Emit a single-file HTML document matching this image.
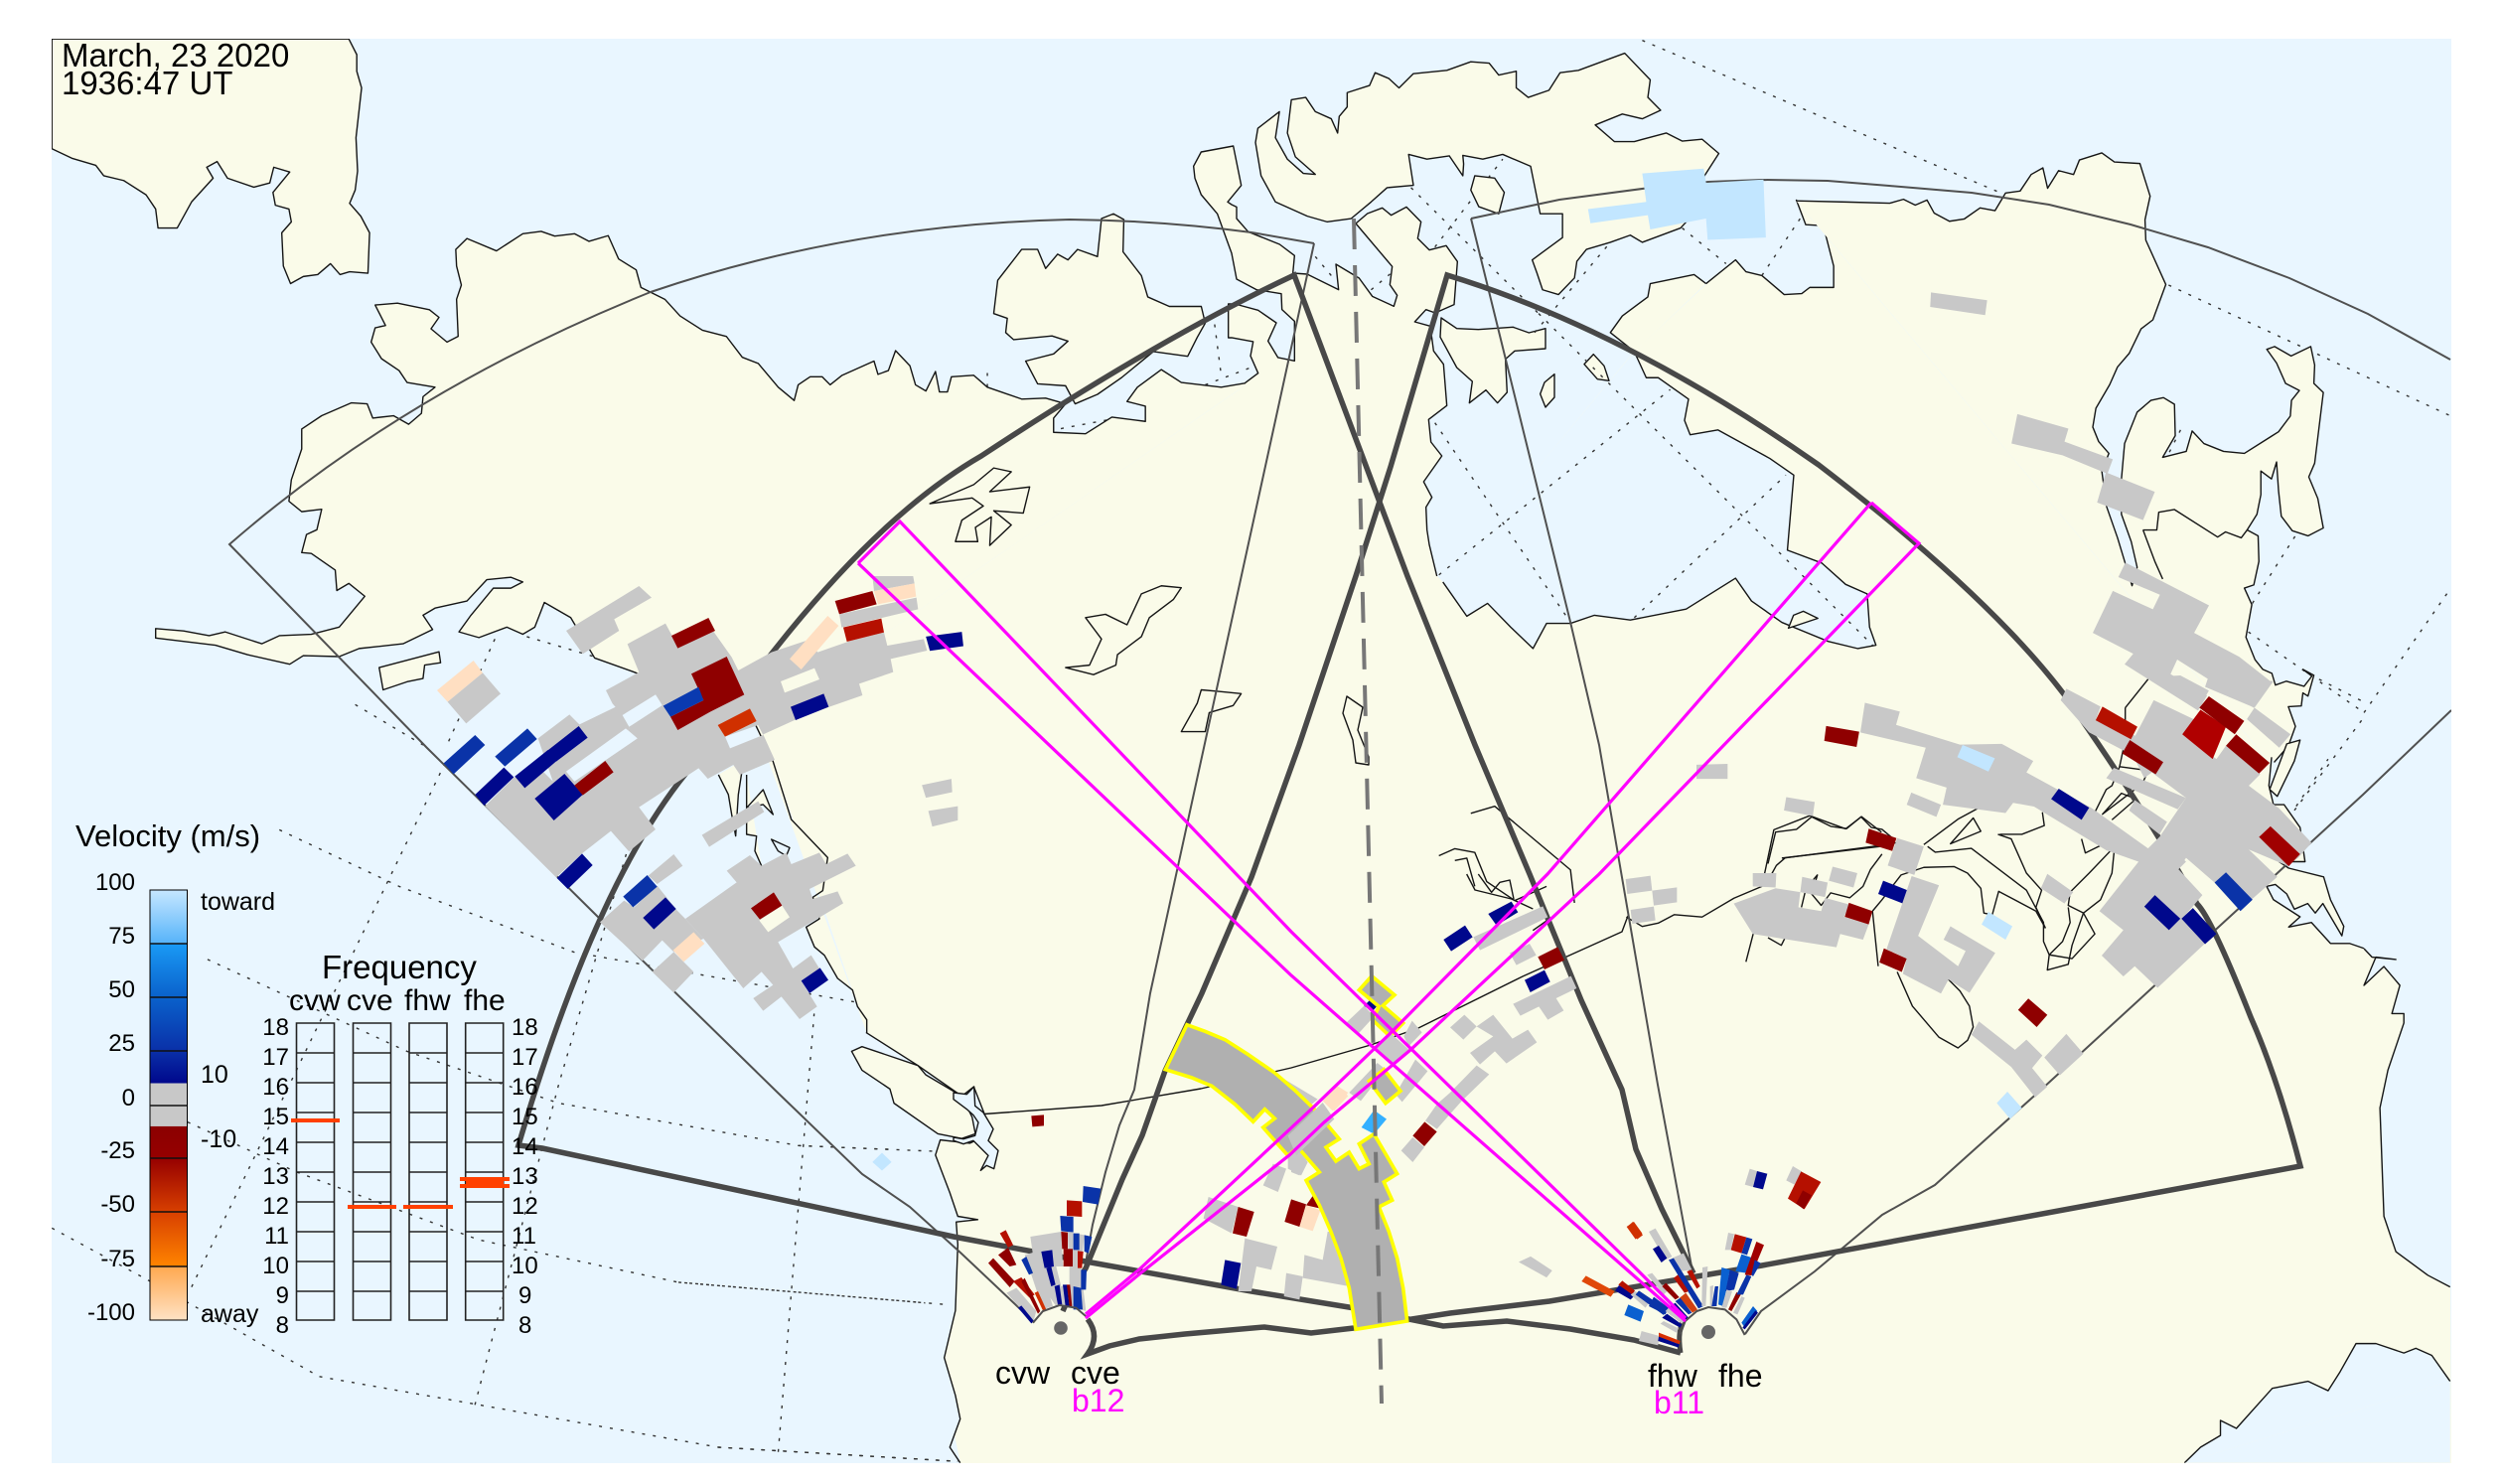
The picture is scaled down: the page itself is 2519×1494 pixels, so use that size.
<!DOCTYPE html>
<html><head><meta charset="utf-8"><title>SuperDARN map</title>
<style>
html,body{margin:0;padding:0;background:#fff}
svg{display:block}
polygon,polyline,path,line,rect{vector-effect:non-scaling-stroke}
.cl{stroke:#151515;stroke-width:1.4;stroke-linejoin:round}
.ld{fill:#fafbe9}.wt{fill:#e9f6ff}.nf{fill:none}
.gd{fill:none;stroke:#333;stroke-width:1.4;stroke-dasharray:3 8}
.th{fill:none;stroke:#505050;stroke-width:2}
.tk{fill:none;stroke:#484848;stroke-width:5.5;stroke-linejoin:miter}
.mg{fill:none;stroke:#ff00ff;stroke-width:3.2}
.g{fill:#c8c8c8}.n{fill:#00088c}.d{fill:#8f0000}.r{fill:#b51000}.b{fill:#0a33a8}.m{fill:#0a60d0}.o{fill:#d03000}.p{fill:#ffdfc2}.l{fill:#c2e6ff}.s{fill:#33b0ff}
text{font-family:"Liberation Sans",sans-serif;fill:#000}
</style></head><body>
<svg xmlns="http://www.w3.org/2000/svg" width="2519" height="1494" viewBox="0 0 2519 1494">
<defs>
<clipPath id="pc"><rect x="52" y="39" width="2416" height="1434"/></clipPath>
<linearGradient id="cb" x1="0" y1="895" x2="0" y2="1329" gradientUnits="userSpaceOnUse">
<stop offset="0" stop-color="#c8e8ff"/><stop offset=".125" stop-color="#58b4fa"/><stop offset=".126" stop-color="#1a9af5"/><stop offset=".25" stop-color="#0a62cc"/><stop offset=".375" stop-color="#0a30a8"/><stop offset=".45" stop-color="#00088c"/><stop offset=".451" stop-color="#c8c8c8"/><stop offset=".55" stop-color="#c8c8c8"/><stop offset=".551" stop-color="#8b0000"/><stop offset=".625" stop-color="#960000"/><stop offset=".75" stop-color="#d84000"/><stop offset=".875" stop-color="#ff8400"/><stop offset=".876" stop-color="#ffa850"/><stop offset="1" stop-color="#ffe2c4"/>
</linearGradient>
</defs>
<rect width="2519" height="1494" fill="#fff"/>
<g clip-path="url(#pc)">
<rect x="52" y="39" width="2416" height="1434" fill="#e9f6ff"/>

<!-- graticule -->
<g transform="translate(0,750) scale(.8036,.4745)">
<polyline class="gd" points="65,1025 185,1135 400,1340 600,1400 900,1490 1200,1520"/>
<polyline class="gd" points="235,800 370,905 600,1050 850,1140 1190,1188"/>
<polyline class="gd" points="260,455 510,650 700,760 1000,850 1170,862"/>
<polyline class="gd" points="350,180 500,300 720,440 1070,545"/>
<polyline class="gd" points="240,1150 560,30"/>
<polyline class="gd" points="595,1400 700,720 790,200"/>
<polyline class="gd" points="975,1500 1020,570"/>
</g>
<g transform="scale(.8036,.4783)">
<polyline class="gd" points="445,1483 530,1568"/><polyline class="gd" points="620,1345 560,1568"/><polyline class="gd" points="660,1340 750,1385"/>
<polyline class="gd" points="1237,785 1237,815"/>
<polyline class="gd" points="1520,660 1530,790"/><polyline class="gd" points="1510,810 1565,775"/><polyline class="gd" points="1400,880 1320,905"/>
</g>
<g transform="translate(1260,0) scale(.8029,.4783)">
<polyline class="gd" points="490,85 945,410"/><polyline class="gd" points="1150,600 1503,875"/><polyline class="gd" points="1250,1330 1395,1500"/><polyline class="gd" points="1395,1500 1503,1240"/><polyline class="gd" points="1255,1270 1310,1125"/>
<polyline class="gd" points="200,395 360,660"/><polyline class="gd" points="230,520 315,335"/><polyline class="gd" points="540,480 595,555"/><polyline class="gd" points="80,540 105,590"/><polyline class="gd" points="150,610 175,575"/><polyline class="gd" points="1165,905 1150,955"/>
</g>
<g transform="translate(1260,750) scale(.8029,.4745)"><polyline class="gd" points="1310,130 1350,30"/></g>

<!-- big land interior -->
<polygon class="ld" points="760,728 1258,385 1447,580 1453,586 1645,354 1718,286 1808,202 2287,770 2287,762 2380,955 2376,959 2392,1082 2392,1224 2400,1272 2467,1296 2468,1473 967,1473 873,1040 778,767"/>

<!-- Q1 land -->
<g transform="scale(.8036,.4783)">
<polyline class="ld cl" points="946,1522 795,1415 745,1385 715,1300 682,1268 670,1320 655,1335 635,1320 600,1342 575,1330 590,1295 618,1238 640,1238 655,1225 640,1215 610,1220 585,1265 545,1280 530,1295 542,1325 505,1355 450,1365 425,1382 380,1380 363,1398 310,1378 270,1358 195,1343 195,1323 230,1328 262,1338 282,1330 328,1355 350,1338 390,1335 425,1320 457,1255 437,1228 422,1243 420,1200 390,1165 378,1163 384,1125 397,1115 403,1072 378,1077 362,1055 365,1010 378,945 378,903 403,875 440,848 460,850 467,880 493,875 512,893 528,870 530,835 545,815 510,805 500,780 478,755 465,720 470,690 483,685 470,642 498,638 538,652 550,668 540,692 560,720 574,708 572,630 578,600 572,560 571,525 585,502 622,528 655,492 678,487 695,497 720,492 738,508 762,496 775,545 797,568 803,605 833,630 852,665 880,695 910,708 930,752 950,765 975,815 995,843 1000,810 1015,793 1030,793 1040,810 1055,790 1095,760 1100,788 1113,780 1122,738 1140,770 1147,810 1160,823 1172,782 1177,825 1187,825 1192,793 1220,790 1237,815 1280,840 1310,838 1335,850 1320,880 1320,910 1360,913 1393,878 1435,887 1435,855 1412,845 1425,815 1455,778 1480,805 1530,815 1565,805"/>
<polygon class="ld cl" points="65,82 437,82 447,115 447,150 453,185 450,230 446,290 448,360 445,400 438,428 452,455 463,490 461,575 438,572 426,578 414,555 398,578 380,582 364,597 355,560 353,490 365,467 362,440 345,432 342,405 363,362 343,352 338,385 318,394 285,375 272,340 259,352 267,375 240,425 222,480 198,480 195,440 183,410 155,380 130,370 120,348 90,333 65,313"/>
<polygon class="ld cl" points="1245,660 1250,590 1280,525 1300,525 1310,565 1325,535 1338,547 1350,525 1375,540 1380,460 1395,450 1408,462 1407,530 1430,580 1438,625 1465,645 1505,645 1510,680 1500,710 1488,750 1445,740 1405,795 1375,830 1347,850 1335,812 1300,808 1285,760 1320,745 1338,718 1318,707 1270,715 1260,700 1262,670"/>
<polygon class="ld cl" points="475,1405 550,1372 552,1395 532,1400 530,1428 510,1435 480,1452"/>
<polygon class="ld cl" points="1165,1060 1220,1020 1245,985 1267,993 1240,1035 1290,1025 1282,1080 1245,1075 1267,1105 1240,1148 1242,1088 1222,1110 1225,1140 1197,1140 1205,1095 1232,1065 1218,1048"/>
<polygon class="ld cl" points="1335,1405 1365,1400 1380,1345 1360,1300 1385,1293 1412,1315 1430,1250 1455,1233 1480,1237 1470,1262 1440,1300 1430,1340 1400,1378 1398,1400 1370,1420"/>
<polygon class="ld cl" points="1480,1540 1500,1480 1505,1452 1525,1455 1555,1460 1545,1485 1515,1500 1510,1540"/>
</g>

<!-- Z7 land: NE mainland -->
<g transform="translate(1240,180) scale(.33333)">
<polyline class="ld cl" points="40,617 80,587 57,535 65,492 0,480 -10,480 -10,378 10,378 80,397 135,435 110,490 140,540 190,550 190,430 152,395 150,347 75,335 15,303 0,225 -12,192 -43,106 -92,48 -111,-2 -115,-38 -92,-81 5,-99 29,20 -12,70 0,78 15,85 15,120 50,160 145,198 190,232 185,285 228,288 323,335 315,258 385,300 425,355 490,385 500,352 478,320 485,265 375,135 410,105 455,88 482,110 528,85 572,130 562,180 597,215 648,202 682,250 672,380 615,405 587,395 553,432 600,445 610,520 640,560 650,685 595,727 602,795 635,837 580,915 605,962 587,992 590,1060 597,1105 620,1200"/>
<polygon class="ld cl" points="633,420 680,452 745,455 850,448 898,465 948,452 948,513 855,520 827,545 832,645 803,677 768,638 718,677 727,612 680,570 630,478"/>
<polygon class="ld cl" points="1065,560 1093,530 1125,565 1140,610 1105,605"/>
<polygon class="ld cl" points="932,650 945,615 975,590 975,660 948,690"/>
</g>

<!-- Q2 land/water -->
<g transform="translate(1260,0) scale(.8029,.4783)">
<polygon class="ld cl" points="8,270 35,235 30,290 45,335 65,365 80,367 55,330 45,280 50,210 68,205 80,235 100,250 108,280 110,245 120,225 120,195 148,180 155,153 172,165 185,185 203,155 245,148 275,130 298,133 310,158 332,150 332,185 347,205 373,190 387,153 410,148 468,112 500,168 497,205 513,232 490,250 465,240 431,263 455,298 480,298 520,280 540,297 565,293 586,323 568,370 560,440 538,480 490,510 475,495 450,510 420,525 408,550 405,585 385,620 365,610 358,575 352,547 390,500 390,450 362,450 350,350 315,325 290,335 265,327 266,345 265,370 248,328 220,335 197,325 203,390 170,395 150,425 125,460 95,467 70,455 30,425 12,370 5,300"/>
<polygon class="ld cl" points="280,370 305,375 317,405 310,450 285,435 275,400"/>
<polyline class="wt cl" points="240,1225 270,1297 296,1270 325,1320 353,1365 370,1312 400,1312 430,1295 475,1305 545,1282 607,1217 627,1265 665,1310 723,1350 760,1365 783,1358 775,1320 772,1250 745,1230 715,1185 672,1158 680,1000 650,965 585,905 550,915 543,885 548,840 510,795 495,795 480,740"/>
<polyline class="ld cl" points="480,740 450,700 465,665 497,625 500,597 555,578 570,597"/>
<polyline class="wt cl" points="570,597 607,547 620,572 640,580 668,620 690,618 700,605 730,605 730,560 717,475 695,473 683,420"/>
<polyline class="gd" points="230,890 400,1310"/><polyline class="gd" points="235,1210 525,820"/><polyline class="gd" points="480,1300 670,1000"/><polyline class="gd" points="360,660 780,1360"/><polyline class="gd" points="355,700 450,510"/><polyline class="gd" points="640,580 690,455"/>
</g>
<g transform="translate(1355,700)"><polygon class="ld cl" points="1,1 17,12 12,35 23,62 23,70 10,68 7,45 -3,18"/></g>

<!-- Z12 east land -->
<g transform="translate(1780,150) scale(.3954)">
<polyline class="ld cl" points="72,132 200,135 310,138 345,128 375,143 405,130 423,163 462,184 500,178 540,150 578,157 605,112 642,107 670,65 700,48 712,100 740,55 778,65 793,28 850,10 882,33 947,37 973,120 960,180 962,232 1013,345 980,435 950,458 920,520 890,555 870,600 835,660 827,708 842,745 868,775 850,820 862,910 890,990 927,1112 940,1065 925,1000 900,930 900,840 908,750 940,670 975,640 1007,633 1035,650 1037,730 1005,785 1065,770 1080,718 1110,750 1160,770 1213,775 1300,720 1330,680 1333,640 1353,615 1318,597 1295,545 1270,510 1290,503 1332,527 1382,503 1392,550 1390,597 1414,620 1392,800 1377,835 1400,890 1414,965 1375,985 1335,972 1307,935 1300,870 1295,797 1282,840 1255,820 1255,880 1245,930 1220,970 1248,985 1250,1050 1237,1110 1213,1118 1232,1160 1217,1243 1240,1300 1260,1325 1283,1335 1292,1365 1320,1355 1365,1368 1385,1342 1362,1325 1390,1340 1375,1393 1362,1385 1358,1418 1325,1420 1343,1470 1325,1520 1283,1568"/>
<polyline class="nf cl" points="955,970 985,1050 1005,1095"/>
<polyline class="nf cl" points="955,970 990,970 995,925 1035,918 1145,988 1165,975 1205,990 1220,970"/>
<polygon class="ld cl" points="52,1220 65,1187 90,1177 127,1195"/>
</g>

<!-- Z9 east coast -->
<g transform="translate(1780,680) scale(.38265)">
<polyline class="wt cl" points="1325,215 1318,290 1330,340 1358,340 1400,400 1413,490 1345,490 1370,507 1462,530 1480,590 1515,660 1510,685 1460,600 1440,625 1420,600 1385,615 1365,575 1335,550 1312,555 1330,590 1400,635 1370,662 1430,650 1480,705 1530,705 1568,718"/>
<polyline class="gd" points="1385,355 1568,110"/><polyline class="gd" points="1450,10 1568,70"/>
<polygon class="ld cl" points="1320,300 1365,180 1400,170 1385,225 1340,318"/>
<polyline class="nf cl" points="0,495 20,412 75,405 115,372 165,397 207,403 245,372 272,400 300,405 330,430"/>
<polyline class="nf cl" points="0,540 22,500 45,480 275,450 340,440"/>
<polyline class="nf cl" points="300,470 270,510 250,555 215,585 165,572 140,605 115,575 130,525 100,560 88,610"/>
<polyline class="nf cl" points="275,620 300,590 350,525 410,505 490,503 525,520 560,560 568,625 590,630 607,568 705,620 730,665"/>
<polyline class="nf cl" points="410,445 500,378 570,340"/>
<polygon class="nf cl" points="480,443 560,410 540,375"/>
<polyline class="nf cl" points="420,450 440,465 535,455 680,565 725,650 725,700 740,735 800,745 860,680 830,625 790,605 795,570 845,520 912,450"/>
<polyline class="nf cl" points="605,418 640,430 680,520 720,565 705,610 730,665"/>
<polyline class="nf cl" points="610,418 668,418 727,395 722,360"/>
<polyline class="nf cl" points="825,430 835,467 890,440 912,450 905,520 875,590 830,625 800,710 790,760 735,775 740,735 775,700 795,650 790,610"/>
<polyline class="nf cl" points="275,620 290,765"/>
<polyline class="nf cl" points="340,780 380,870 450,952 500,980 525,960 540,925 530,870 505,830 475,800"/>
<polyline class="nf cl" points="860,360 890,300 905,290 925,240 1000,250 985,285 880,365 930,310 968,325 905,380"/>
<polyline class="nf cl" points="940,85 1000,10"/><polyline class="nf cl" points="925,240 940,170 940,85"/>
<polyline class="nf cl" points="0,690 35,710 45,690"/>
</g>

<!-- Q4 coasts -->
<g transform="translate(1260,750) scale(.8029,.4745)">
<polygon class="ld" points="1395,432 1405,450 1435,455 1410,450 1395,510 1420,470 1440,510 1430,570 1445,570 1445,590 1425,690 1415,770 1420,1000 1435,1075 1475,1125 1503,1150 1400,1150 1385,440"/>
<polyline class="nf cl" points="1395,432 1405,450 1435,455 1410,450 1395,510 1420,470 1440,510 1430,570 1445,570 1445,590 1425,690 1415,770 1420,1000 1435,1075 1475,1125 1503,1150"/>
<polyline class="wt cl" points="1503,1350 1480,1295 1460,1280 1445,1290 1410,1270 1385,1270 1365,1330 1350,1370 1325,1350 1280,1365 1235,1450 1215,1433 1215,1465 1190,1490 1170,1523"/>
<polygon class="wt" points="1503,1350 1170,1523 1503,1523"/>
<polyline class="nf cl" points="275,145 305,130 400,265 405,335"/>
<polyline class="nf cl" points="235,235 255,220 280,228 295,290 330,330 370,300"/>
<polyline class="nf cl" points="255,245 270,240 280,300"/>
<polyline class="nf cl" points="470,365 490,385 510,378 530,360 565,365 605,325 640,300 655,180 700,150 745,178 765,152 790,185"/>
<polyline class="nf cl" points="620,460 630,395 650,330"/>
<polyline class="nf cl" points="665,240 790,215"/>
</g>
<polyline class="nf cl" points="984,1122 1109,1113 1209,1096 1300,1075 1380,1052 1428,1035 1533,983 1633,938 1639,922"/>

<!-- Q3 west coast -->
<g transform="translate(0,750) scale(.8036,.4745)">
<polyline class="wt cl" points="1203,1523 1190,1490 1203,1430 1197,1380 1183,1300 1197,1200 1200,1060 1198,1012 1225,1007 1200,1000 1190,950 1172,870 1178,838 1215,845 1240,825 1235,790 1220,725 1205,745 1150,680 1085,610"/>
<polyline class="gd" points="900,1490 1200,1520"/><polyline class="gd" points="850,1140 1190,1188"/><polyline class="gd" points="1000,850 1170,862"/>
<polygon class="ld cl" points="1067,650 1080,640 1150,680 1160,700 1205,745 1218,790 1222,825 1205,835 1175,825 1120,760 1115,730 1080,690"/>
</g>
<g transform="translate(960,1000) scale(.33333)">
<polygon class="wt cl" points="0,300 40,305 62,282 65,340 90,360 120,410 105,445 135,475 122,530 100,520 82,535 105,490 60,445 30,455 0,445 0,435 30,440 65,430 75,390 60,368 40,350 0,320"/>
</g>

<!-- Z8 coast -->
<g transform="translate(430,580) scale(.33333)">
<polyline class="ld cl" points="990,445 1045,560 1100,735 1210,850 1195,950 1165,970 1185,1035 1145,1060 1170,1120 1200,1145 1240,1215 1285,1250 1300,1300 1328,1340 1328,1380"/>
<polyline class="ld cl" points="880,600 910,660 920,720 932,785 940,660 950,595 930,570"/>
<polyline class="ld cl" points="965,600 965,700 1015,645 1045,720 1015,690 965,700 965,780 995,785 990,830 1010,875"/>
<polygon class="wt cl" points="1040,795 1095,820 1085,845 1060,830"/>
</g>
<g transform="translate(1300,880) scale(.33333)">
<polyline class="nf cl" points="530,0 555,48 665,75 730,105"/><polyline class="nf cl" points="565,0 605,55 630,25 660,18 672,75"/><polyline class="nf cl" points="730,170 780,135"/>
</g>

<!-- thin outlines -->
<polyline class="th" points="1323,245 1158,1000 1142,1097 1127,1133 1113,1180 1100,1233 1092,1277 1078,1312"/>
<path class="th" d="M1323,245 L1260,234 Q1170,222 1077,221 Q854,226 655,294 Q409,393 231,548 L430,753 L607,928 L783,1100 L868,1182 L916,1215 L968,1262 L1040,1330"/>
<polyline class="th" points="1481,220 1570,201 1661,189 1720,183 1774,181 1840,182 1902,187 1985,194 2063,206 2145,226 2223,249 2305,280 2384,316 2467,362"/>
<polyline class="th" points="1481,220 1581,626 1610,750 1669,1092 1706,1291"/>
<polyline class="th" points="1757,1343 1773,1320 1827,1280 1895,1223 1948,1193 2055,1097 2379,800 2468,715"/>

<!-- thick FOV outlines -->
<path class="tk" d="M1095,1328 Q1108,1345 1095,1363 L1117,1355 1147,1348 1193,1343 1273,1336 1320,1342 1363,1337 1460,1322 1560,1310 1774,1274 2316,1174 Q2293,1085 2266,1024 Q2227,925 2212,910 Q2160,815 2078,699 Q2001.500,598.500 1831,468 Q1636,331.500 1457,277 L1400,470 1365,580 1308,750 1260,883 1210,1000 1173,1078 1150,1143 1130,1187 1093,1277 1080,1297 1070,1320"/>
<path class="tk" d="M1705,1282 L1673,1217 1647,1157 1633,1097 1592,1007 1540,880 1485,750 1417,580 1303,277 Q1168.500,340 988,459 Q848.500,539.500 691,778 Q599.500,890.500 522,1153 L546,1156 960,1245 1040,1260 1093,1270 1260,1300 1364,1317 1453,1335 1517,1330 1581,1338 1645,1349 1692,1362"/>
<path d="M1692,1362 Q1688,1338 1697,1325" fill="none" stroke="#484848" stroke-width="5"/>

<!-- blue patch and scattered cells -->
<g transform="translate(1260,0) scale(.8029,.4783)">
<polygon class="l" points="490,365 567,355 570,385 642,378 645,500 572,505 570,460 500,483 497,453 425,470 422,440 495,425"/>
</g>
<g transform="scale(.8036,.4783)"><polygon class="n" points="1160,1340 1205,1330 1207,1360 1165,1370"/></g>
<g transform="translate(0,750) scale(.8036,.4745)">
<polygon class="g" points="1155,85 1192,72 1193,100 1160,112"/><polygon class="g" points="1163,140 1200,130 1200,160 1168,173"/>
<polygon class="l" points="1105,865 1117,885 1105,903 1093,885"/>
</g>

<!-- Z8 cells -->
<g transform="translate(430,580) scale(.33333)">
<polygon class="g" points="420,165 640,30 678,65 565,130 580,165 470,235"/>
<path class="g" fill-rule="evenodd" d="M540,345 L640,290 605,205 720,143 740,180 860,160 920,245 940,285 1040,230 1145,195 1180,230 1280,195 1380,170 1390,210 1500,190 1510,225 1400,250 1408,290 1305,325 1315,360 1215,395 1110,435 1015,478 1050,555 945,600 925,570 848,612 820,580 790,600 640,698 690,765 610,832 555,770 465,840 390,910 175,695 260,610 330,570 380,620 480,550 612,460 590,420 560,385 Z M590,420 L690,358 710,390 610,455 Z M420,590 L600,460 635,490 445,620 Z M1068,318 L1170,278 1185,312 1080,352 Z M900,485 L1000,450 1015,480 915,520 Z"/>
<polygon class="g" points="335,490 430,418 460,448 590,385 612,460 480,550 380,620"/>
<polygon class="wt" points="420,590 600,460 635,490 445,620"/>
<polygon class="wt" points="590,420 690,358 710,390 610,455"/>
<polygon class="p" points="30,345 140,255 168,292 62,380"/><polygon class="g" points="62,380 168,292 222,355 118,445"/>
<polygon class="b" points="50,565 145,480 175,510 80,598"/>
<polygon class="b" points="205,545 303,460 332,492 235,575"/>
<polygon class="n" points="145,660 232,578 262,607 172,693"/>
<polygon class="n" points="265,605 365,525 395,555 295,640"/>
<polygon class="n" points="360,530 458,453 485,488 390,560"/>
<polygon class="n" points="325,672 415,597 470,660 383,738"/>
<polygon class="d" points="445,632 538,558 563,592 470,662"/>
<polygon class="n" points="392,912 468,838 500,873 425,945"/>
<polygon class="d" points="738,180 850,126 870,165 757,218"/>
<polygon class="d" points="798,295 905,243 958,358 855,410 757,465 735,425 835,375"/>
<polygon fill="#0a3ab0" points="713,392 820,335 835,375 735,425"/>
<polygon class="o" points="878,450 975,400 995,438 900,485"/>
<polygon class="n" points="1098,395 1198,355 1213,395 1113,435"/>
<polygon class="g" points="1345,0 1468,0 1472,22 1350,45"/>
<polygon class="d" points="1232,75 1345,45 1358,85 1245,115"/>
<polygon class="p" points="1350,45 1472,22 1477,62 1362,85"/>
<polygon class="g" points="1245,115 1478,65 1483,100 1252,155"/>
<polygon class="r" points="1257,155 1372,128 1380,170 1268,198"/>
<polygon class="p" points="1095,250 1210,120 1243,150 1130,282"/>
<polygon class="g" points="830,782 1000,680 1018,712 852,818"/>
<polygon class="g" points="668,905 745,840 772,875 695,930"/>
<polygon class="g" points="905,890 975,843 1010,875 1085,835 1100,870 1185,835 1205,870 1270,838 1295,875 1155,945 1165,975 1240,952 1257,988 1060,1105 1105,1185 1160,1145 1185,1185 1130,1222 1178,1300 1125,1338 1070,1270 1015,1313 985,1275 1045,1235 1010,1195 955,1245 835,1095 780,1035 935,925"/>
<polygon class="g" points="522,1045 595,980 625,1000 695,935 755,1010 780,1035 835,1095 745,1135 710,1100 650,1162"/>
<polygon class="g" points="680,1195 745,1135 805,1195 745,1258"/>
<polygon class="b" points="592,968 665,903 695,938 622,1000"/>
<polygon class="n" points="652,1032 720,970 752,1005 685,1067"/>
<polygon class="ld" points="1003,1040 1072,995 1095,1030 1030,1075"/>
<polygon class="d" points="978,1003 1047,955 1072,995 1005,1037"/>
<polygon class="p" points="743,1130 805,1075 838,1110 775,1165"/>
<polygon class="n" points="1130,1222 1187,1183 1212,1220 1155,1260"/>
</g>

<!-- Z6 cells & cve fan -->
<g transform="translate(960,1000) scale(.33333)">
<polygon class="d" points="235,370 273,367 273,400 238,403"/>
<polygon class="g" points="770,615 860,645 840,725 755,680"/>
<polygon class="d" points="860,645 908,660 885,735 843,725"/>
<polygon class="g" points="880,740 978,765 960,835 915,825 900,900 860,900 870,820"/>
<polygon class="n" points="820,805 868,815 855,893 808,880"/>
<polygon class="g" points="1005,845 1055,855 1045,925 998,915"/>
<polygon class="g" points="1060,790 1115,805 1130,720 1150,720 1195,885 1055,860"/>
<polygon class="d" points="1065,640 1090,605 1108,650"/>
<polygon class="d" points="1020,622 1065,637 1045,705 1000,690"/>
<polygon class="p" points="1065,640 1108,655 1085,718 1045,705"/>
<polygon class="g" points="1010,490 1040,465 1070,510 1050,550 1010,530"/>
<polygon class="g" points="965,515 1005,530 980,600 935,580"/>
<polygon class="p" points="1115,325 1160,280 1192,300 1145,355"/>
<polygon class="g" points="1000,260 1100,320 1065,350"/>
<polygon class="g" points="232,735 325,720 330,820 365,920 345,945 310,945 250,860"/>
<polygon class="g" points="160,905 190,890 250,960 240,995"/>
<polygon class="g" points="215,790 250,780 300,945 270,955"/>
<polygon class="g" points="345,720 395,730 385,835 400,960 350,945"/>
<polygon class="ld" points="310,825 350,825 350,880 325,885"/>
<polygon class="n" points="265,780 298,775 303,825 275,830"/>
<polygon class="n" points="280,830 295,825 308,880 295,885"/>
<polygon class="b" points="205,805 220,795 240,845 228,850"/>
<polygon class="r" points="140,725 158,715 180,760 165,768"/>
<polygon class="d" points="135,790 165,768 190,820 170,825"/>
<polygon class="d" points="105,815 120,800 185,870 170,888"/>
<polygon class="r" points="180,870 205,858 245,910 230,920"/>
<polygon class="d" points="205,870 215,860 262,960 255,968"/>
<polygon class="o" points="245,905 255,900 280,955 270,958"/>
<polygon class="n" points="195,950 205,943 243,990 235,997"/>
<polygon class="n" points="305,885 320,880 328,940 315,940"/>
<polygon class="n" points="330,880 343,880 350,945 338,945"/>
<polygon class="d" points="342,880 352,880 358,945 350,945"/>
<polygon class="d" points="325,720 345,722 345,772 328,772"/>
<polygon class="d" points="332,772 360,772 360,825 332,825"/>
<polygon class="b" points="362,725 380,725 380,775 362,775"/>
<polygon class="b" points="395,730 418,735 408,785 395,780"/>
<polygon class="r" points="375,778 392,780 388,830 375,830"/>
<polygon class="b" points="322,672 362,675 362,722 325,718"/>
<polygon class="r" points="342,625 388,628 388,675 342,672"/>
<polygon class="b" points="392,582 445,590 437,638 390,630"/>
<polygon class="b" points="385,835 402,835 400,895 385,895"/>
<polygon class="b" points="362,885 385,890 390,955 362,955"/>
<polyline class="th" points="240,995 270,960 320,942 370,950 405,980"/>
</g>
<circle cx="1068" cy="1337" r="6.8" fill="#666"/>

<!-- Z10 cells -->
<g transform="translate(1300,880) scale(.33333)">
<polygon class="n" points="460,198 525,155 548,190 483,233"/>
<polygon class="n" points="595,120 665,83 685,115 620,155"/>
<polygon class="g" points="550,190 760,97 775,130 570,230"/>
<polygon class="g" points="660,238 720,210 740,245 680,275"/>
<polygon class="d" points="745,250 805,220 825,260 765,288"/>
<polygon class="n" points="705,320 765,290 782,325 722,357"/>
<polygon class="g" points="670,392 845,308 862,345 800,375 823,412 775,440 748,400 692,428"/>
<polygon class="g" points="480,463 523,425 560,460 520,500"/>
<polygon class="g" points="560,460 610,425 668,497 715,470 742,508 650,572 615,535 570,575 540,540 610,490"/>
<polygon class="g" points="165,450 220,398 250,430 200,485"/>
<polygon class="n" points="220,398 238,380 258,400 245,415"/>
<polygon class="g" points="340,490 365,443 395,478 355,520"/>
<polygon class="g" points="175,660 260,570 285,590 210,685"/>
<polygon class="g" points="315,665 375,560 412,595 335,688"/>
<polygon class="g" points="440,695 480,660 560,578 598,605 515,685 475,730 440,770 405,745"/>
<polygon class="d" points="367,790 403,748 440,778 402,822"/>
<polygon class="g" points="332,835 367,795 402,825 367,870"/>
<polygon class="p" points="100,680 140,640 172,670 130,715"/>
<polygon class="s" points="212,765 250,713 288,740 250,785"/>
<polygon class="o" points="1013,1065 1035,1050 1060,1085 1040,1103"/>
<polygon class="g" points="1010,15 1085,5 1090,50 1015,60"/><polygon class="g" points="1090,50 1165,40 1165,85 1095,95"/><polygon class="g" points="1025,108 1095,98 1100,140 1030,150"/>
<polygon class="g" points="0,870 50,855 25,910 0,900"/>
</g>
<g transform="translate(1260,750) scale(.8029,.4745)">
<polygon class="g" points="558,42 597,40 597,72 558,72"/>
<polygon class="g" points="335,1097 350,1085 377,1115 370,1130"/>
</g>

<!-- Z12 cells -->
<g transform="translate(1780,150) scale(.3954)">
<polygon class="g" points="415,365 558,385 553,423 413,402"/>
<polygon class="g" points="620,750 635,675 765,712 755,745 878,790 865,825 985,873 955,945 838,900 860,825 750,780"/>
<polygon class="g" points="827,1232 878,1125 980,1172 998,1135 892,1090 910,1053 1123,1162 1085,1232 1200,1293 1283,1358 1237,1423 1042,1300 1025,1337 1118,1392 1095,1430 908,1312 930,1285"/>
</g>

<!-- Z9 cells -->
<g transform="translate(1780,680) scale(.38265)">
<polygon class="g" points="243,150 255,72 347,95 337,130 505,182 615,180 698,225 680,255 850,348 1000,455 1030,425 1100,490 1080,510 1143,578 1090,640 1180,680 1150,705 1025,822 965,765 935,792 878,737 935,670 872,620 975,490 890,460 700,345 645,335 625,362 460,340 470,295 390,270 415,190"/>
<polygon class="g" points="1000,5 1085,0 1160,40 1135,85"/>
<polygon class="g" points="1160,0 1330,15 1280,85 1150,30"/>
<polygon class="g" points="1260,115 1280,85 1375,155 1345,190"/>
<polygon class="g" points="950,190 1015,65 1130,120 1090,155 1180,220 1205,185 1295,260 1265,290 1345,350 1430,440 1395,480 1365,500 1265,458 1340,530 1272,590 1175,545 1100,480 1080,510 1030,425 1100,322 1010,255 990,270"/>
<polygon class="g" points="890,270 910,243 1100,322 1078,352"/>
<polygon class="g" points="770,65 785,35 875,82 862,118 970,160 950,205 845,150"/>
<polygon class="g" points="950,355 965,328 1050,385 1030,418"/>
<polygon class="g" points="718,560 735,522 803,570 780,600"/>
<polygon class="r" points="862,118 880,82 972,135 955,168"/>
<polygon class="d" points="932,205 952,170 1040,228 1020,260"/>
<polygon fill="#b00000" points="1090,155 1138,90 1205,135 1170,220"/>
<polygon class="d" points="1135,85 1160,55 1253,120 1228,155"/>
<polygon class="d" points="1205,185 1232,155 1320,230 1292,258"/>
<polygon fill="#a00000" points="1292,425 1322,397 1400,470 1370,502"/>
<polygon class="b" points="1175,545 1205,518 1275,590 1243,620"/>
<polygon class="n" points="990,608 1018,578 1085,640 1055,670"/>
<polygon class="n" points="1088,640 1118,612 1180,680 1150,707"/>
<polygon class="n" points="745,325 765,298 845,348 825,380"/>
<polygon class="l" points="498,215 512,183 597,218 580,253"/>
<polygon class="g" points="315,500 340,428 410,450 385,525"/>
<polygon class="g" points="42,355 48,320 123,333 118,370"/>
<polygon class="g" points="365,340 377,308 455,340 443,372"/>
<polygon class="d" points="148,172 153,133 240,148 233,188"/>
<polygon class="d" points="257,440 265,403 338,428 327,462"/>
<polygon class="n" points="290,575 303,540 367,565 355,600"/>
<polygon class="g" points="-40,520 22,520 20,558 -40,555"/>
<polygon class="g" points="85,570 90,530 157,545 150,583"/>
<polygon class="g" points="160,540 170,503 235,520 225,558"/>
<polygon class="g" points="-90,600 20,560 85,570 80,610 140,620 150,585 215,603 200,635 265,655 250,695 190,680 180,715 -40,680"/>
<polygon class="d" points="202,635 213,598 275,620 265,655"/>
<polygon class="g" points="378,528 450,552 395,685 500,765 520,725 462,695 480,660 598,730 530,835 475,800 455,837 355,785 365,745 312,720"/>
<polygon class="d" points="293,755 305,718 365,745 352,780"/>
<polygon class="l" points="562,655 580,622 643,660 625,695"/>
<polygon class="d" points="658,880 685,850 735,893 707,925"/>
<polygon class="g" points="535,945 555,910 650,985 680,958 722,1000 695,1033 735,1082 703,1110 640,1030"/>
<polygon class="g" points="727,1005 785,943 830,995 768,1052"/>
<polygon class="l" points="602,1125 630,1095 668,1138 637,1167"/>
</g>

<!-- fhw/fhe fan -->
<g transform="translate(1560,1140) scale(.33333)">
<polygon fill="#e04808" points="97,450 110,433 197,480 185,497"/>
<polygon class="n" points="198,478 210,462 260,490 245,505"/>
<polygon class="r" points="208,460 220,448 258,478 250,490"/>
<polygon class="g" points="245,490 260,480 300,515 290,530"/>
<polygon class="b" points="260,490 270,478 355,535 345,552"/>
<polygon class="b" points="300,525 315,497 360,530 350,550"/>
<polygon class="g" points="350,540 365,525 410,565 400,578"/>
<polygon class="n" points="340,560 355,548 400,580 395,590"/>
<polygon class="m" points="226,552 238,520 285,540 275,572"/>
<polygon class="g" points="335,578 345,570 390,592 383,605"/>
<polygon class="g" points="270,630 278,600 332,615 328,643"/>
<polygon fill="#d83000" points="330,605 395,630 392,640 330,618"/>
<polygon class="n" points="330,617 392,640 390,650 328,630"/>
<polygon class="g" points="300,300 320,290 370,375 350,385"/>
<polygon class="n" points="312,352 330,342 355,380 338,393"/>
<polygon class="g" points="370,380 405,365 430,415 390,420"/>
<polygon class="b" points="360,385 375,380 465,525 450,532"/>
<polygon class="r" points="415,420 430,415 455,465 445,472"/>
<polygon class="o" points="235,285 252,270 282,310 265,323"/>
<polygon class="g" points="295,430 310,425 355,480 345,490"/>
<polygon class="d" points="340,465 352,455 392,498 380,505"/>
<polygon class="r" points="375,440 388,430 420,480 408,485"/>
<polygon fill="#d04010" points="393,500 412,485 447,535 432,545"/>
<polygon class="b" points="380,510 395,500 430,545 420,550"/>
<polygon class="n" points="365,525 380,515 420,560 410,565"/>
<polygon class="g" points="462,408 478,405 472,525 460,525"/>
<polygon class="g" points="485,465 495,462 492,525 485,525"/>
<polygon class="b" points="490,525 500,465 510,465 505,525"/>
<polygon class="m" points="510,520 520,408 545,415 525,525"/>
<polygon class="b" points="532,480 545,415 572,425 558,475"/>
<polygon class="g" points="520,530 535,475 552,480 535,530"/>
<polygon class="d" points="540,535 565,483 578,490 550,540"/>
<polygon class="g" points="555,545 580,495 590,500 568,550"/>
<polygon class="b" points="565,490 595,430 610,435 585,490"/>
<polygon class="m" points="562,420 580,368 610,378 595,425"/>
<polygon fill="#a00000" points="590,430 625,330 648,340 610,432"/>
<polygon class="b" points="610,430 620,385 638,395 615,435"/>
<polygon class="g" points="530,355 540,303 558,307 548,355"/>
<polygon class="r" points="548,355 560,307 595,317 580,365"/>
<polygon class="b" points="580,365 595,317 613,322 597,370"/>
<polygon class="m" points="580,575 615,525 628,540 590,590"/>
<polygon class="n" points="583,590 622,538 630,545 590,595"/>
<polygon class="g" points="590,158 605,110 627,117 615,165"/>
<polygon class="n" points="615,165 627,117 658,125 645,172"/>
<polygon class="g" points="715,145 735,102 762,118 740,158"/>
<polygon class="r" points="720,200 760,118 820,150 770,232"/>
<polygon class="d" points="745,215 765,175 792,190 768,232"/>
<polyline class="th" points="395,610 410,570 445,540 480,528 530,535 565,565 590,612"/>
</g>
<circle cx="1720" cy="1341" r="7" fill="#666"/>

<!-- yellow FOV -->
<g transform="translate(960,1000) scale(.33333)">
<polygon fill="#b0b0b0" stroke="#ffff00" stroke-width="3.6" points="705,95 760,115 820,140 890,185 970,240 1030,292 1090,350 1165,440 1125,465 1155,507 1195,480 1225,530 1255,515 1225,455 1270,425 1340,545 1300,570 1325,625 1285,645 1315,720 1340,800 1358,890 1370,990 1215,1015 1195,890 1170,800 1140,720 1105,640 1065,565 1105,540 1040,465 1010,490 970,445 935,405 970,378 940,350 905,388 850,335 780,280 720,255 640,230"/>
</g>
<g transform="translate(1300,880) scale(.33333)">
<polygon fill="#b0b0b0" stroke="#ffff00" stroke-width="3.6" points="205,350 243,308 312,365 277,397 338,450 298,490 245,440 265,400"/>
<polygon fill="#b0b0b0" stroke="#ffff00" stroke-width="3.6" points="235,625 280,590 330,655 285,692"/>
<polygon class="g" points="250,525 300,480 355,530 305,578"/>
<polygon fill="#c4c4c4" points="-10,790 95,690 130,740 15,850"/>
</g>

<!-- dashed axis -->
<line x1="1363" y1="220" x2="1391" y2="1413" stroke="#777" stroke-width="4" stroke-dasharray="31 16"/>

<!-- magenta beams -->
<polyline class="mg" points="864,567 906,525 1300,938 1650,1280 1697,1327"/>
<polyline class="mg" points="864,567 1300,982 1640,1280 1697,1330"/>
<polyline class="mg" points="1884,506 1932,547 1610,880 1420,1057 1333,1130 1298,1163 1148,1282 1093,1327"/>
<polyline class="mg" points="1884,506 1558,880 1400,1040 1322,1115 1147,1278 1093,1323"/>
</g>

<!-- legend -->
<rect x="151" y="896" width="37.500" height="433" fill="url(#cb)" stroke="#000" stroke-width="1"/>
<g stroke="#111" stroke-width="1.5">
<line x1="151" y1="950" x2="188" y2="950"/><line x1="151" y1="1004" x2="188" y2="1004"/><line x1="151" y1="1058" x2="188" y2="1058"/><line x1="151" y1="1113" x2="188" y2="1113"/><line x1="151" y1="1166" x2="188" y2="1166"/><line x1="151" y1="1220" x2="188" y2="1220"/><line x1="151" y1="1275" x2="188" y2="1275"/>
</g>
<g fill="none" stroke="#222" stroke-width="1.6">
<rect x="298.500" y="1030" width="38" height="299"/><rect x="355.500" y="1030" width="38" height="299"/><rect x="412" y="1030" width="38" height="299"/><rect x="468.700" y="1030" width="38" height="299"/>
<path d="M298,1060H337M355,1060H394M412,1060H450M469,1060H507M298,1090H337M355,1090H394M412,1090H450M469,1090H507M298,1120H337M355,1120H394M412,1120H450M469,1120H507M298,1150H337M355,1150H394M412,1150H450M469,1150H507M298,1180H337M355,1180H394M412,1180H450M469,1180H507M298,1210H337M355,1210H394M412,1210H450M469,1210H507M298,1240H337M355,1240H394M412,1240H450M469,1240H507M298,1270H337M355,1270H394M412,1270H450M469,1270H507M298,1300H337M355,1300H394M412,1300H450M469,1300H507"/>
</g>
<g fill="#ff4000">
<rect x="293" y="1126" width="49" height="4"/><rect x="350" y="1213" width="49" height="4"/><rect x="406" y="1213" width="50" height="4"/>
<rect x="463" y="1185" width="50" height="4"/><rect x="463" y="1192" width="50" height="4"/><rect x="469" y="1186" width="38" height="9"/>
</g>
<g font-size="24" text-anchor="end">
<text x="136" y="896">100</text><text x="136" y="950">75</text><text x="136" y="1004">50</text><text x="136" y="1058">25</text><text x="136" y="1113">0</text><text x="136" y="1166">-25</text><text x="136" y="1220">-50</text><text x="136" y="1275">-75</text><text x="136" y="1329">-100</text>
<text x="291" y="1042">18</text><text x="291" y="1072">17</text><text x="291" y="1102">16</text><text x="291" y="1132">15</text><text x="291" y="1162">14</text><text x="291" y="1192">13</text><text x="291" y="1222">12</text><text x="291" y="1252">11</text><text x="291" y="1282">10</text><text x="291" y="1312">9</text><text x="291" y="1342">8</text>
</g>
<g font-size="24">
<text x="515" y="1042">18</text><text x="515" y="1072">17</text><text x="515" y="1102">16</text><text x="515" y="1132">15</text><text x="515" y="1162">14</text><text x="515" y="1192">13</text><text x="515" y="1222">12</text><text x="515" y="1252">11</text><text x="515" y="1282">10</text><text x="522" y="1312">9</text><text x="522" y="1342">8</text>
<text x="202" y="1090" font-size="25">10</text><text x="202" y="1155" font-size="25">-10</text><text x="202" y="916" font-size="25">toward</text><text x="202" y="1331" font-size="25">away</text>
</g>
<text x="76" y="852" font-size="31">Velocity (m/s)</text>
<text x="324" y="985" font-size="33">Frequency</text>
<g font-size="30"><text x="291" y="1017">cvw</text><text x="349" y="1017">cve</text><text x="407" y="1017">fhw</text><text x="467" y="1017">fhe</text></g>
<g font-size="33"><text x="62" y="67">March, 23 2020</text><text x="62" y="95">1936:47 UT</text></g>
<g font-size="32">
<text x="1002" y="1393">cvw</text><text x="1078" y="1393">cve</text><text x="1079" y="1421" style="fill:#ff00ff">b12</text>
<text x="1659" y="1396">fhw</text><text x="1730" y="1396">fhe</text><text x="1665" y="1423" style="fill:#ff00ff">b11</text>
</g>
</svg>
</body></html>
